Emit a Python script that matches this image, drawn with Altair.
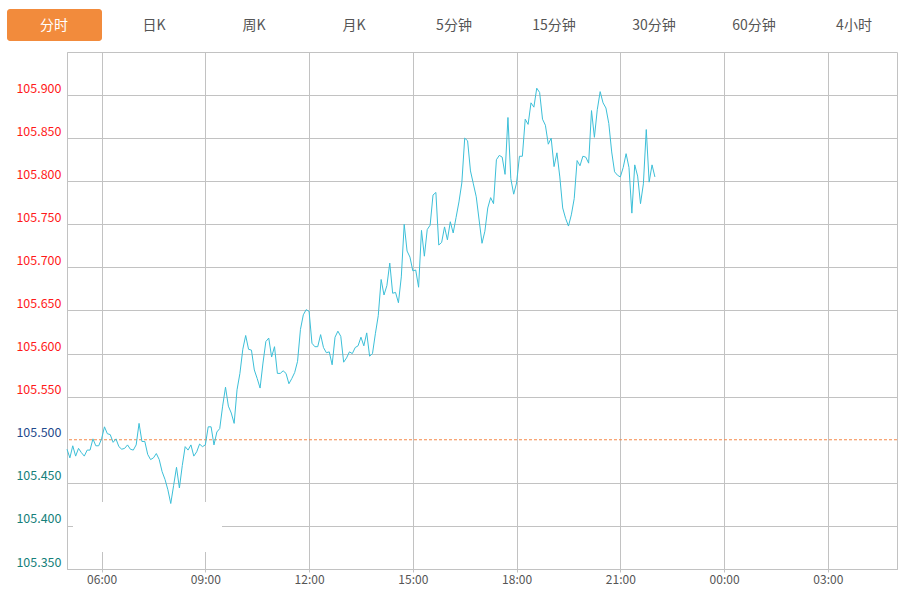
import altair as alt
import pandas as pd

# ---- data ----
prices = [
    105.489, 105.479, 105.493, 105.481, 105.490, 105.485, 105.481, 105.488, 105.488, 105.501,
    105.493, 105.493, 105.501, 105.515, 105.507, 105.506, 105.497, 105.501, 105.492, 105.489,
    105.490, 105.494, 105.489, 105.488, 105.494, 105.519, 105.498, 105.498, 105.483, 105.477,
    105.479, 105.484, 105.477, 105.463, 105.454, 105.442, 105.426, 105.447, 105.468, 105.444,
    105.470, 105.492,
    105.488, 105.494, 105.481, 105.486, 105.495, 105.492, 105.494, 105.515, 105.515, 105.494,
    105.509, 105.513, 105.539, 105.561, 105.539, 105.531, 105.519, 105.558, 105.577, 105.605,
    105.621, 105.605, 105.604, 105.581, 105.571, 105.560, 105.589, 105.614, 105.618, 105.596,
    105.608, 105.577, 105.577, 105.580, 105.577, 105.565, 105.571, 105.578, 105.591, 105.628,
    105.645,
    105.651, 105.649, 105.612, 105.608, 105.608, 105.622, 105.607, 105.601, 105.602, 105.587,
    105.619, 105.626, 105.620, 105.590, 105.595, 105.602, 105.600, 105.607, 105.609, 105.619,
    105.609, 105.624, 105.597, 105.600, 105.623, 105.644, 105.686, 105.668, 105.679, 105.705,
    105.670, 105.671, 105.659, 105.689, 105.750, 105.719, 105.712, 105.696, 105.697, 105.677,
    105.743, 105.713,
    105.744, 105.749, 105.784, 105.787, 105.726, 105.729, 105.747, 105.732, 105.753, 105.740,
    105.758, 105.776, 105.798, 105.850, 105.847, 105.812, 105.797, 105.782, 105.755, 105.728,
    105.742, 105.769, 105.781, 105.774, 105.825, 105.830, 105.828, 105.808, 105.874, 105.803,
    105.785, 105.798, 105.829, 105.829, 105.872, 105.866, 105.891, 105.886, 105.908, 105.903,
    105.872, 105.865,
    105.843, 105.850, 105.817, 105.833, 105.805, 105.769, 105.757, 105.748, 105.761, 105.780,
    105.824, 105.818, 105.829, 105.828, 105.821, 105.882, 105.851, 105.883, 105.904, 105.891,
    105.885, 105.867, 105.834, 105.811, 105.807, 105.805, 105.816, 105.832, 105.816, 105.763,
    105.819, 105.806, 105.774, 105.797, 105.860, 105.799, 105.819, 105.805,
]
step_minutes = 5                      # one point every 5 minutes from 05:00
session_minutes = 1440                # 05:00 -> 05:00 next day
x_tick_minutes = [60, 240, 420, 600, 780, 960, 1140, 1320]
x_tick_labels = ["06:00", "09:00", "12:00", "15:00", "18:00", "21:00", "00:00", "03:00"]
y_ticks = [105.35, 105.40, 105.45, 105.50, 105.55, 105.60, 105.65,
           105.70, 105.75, 105.80, 105.85, 105.90]
y_domain = [105.35, 105.95]
prev_close = 105.50
tabs = ["分时", "日K", "周K", "月K", "5分钟", "15分钟", "30分钟", "60分钟", "4小时"]

# ---- styling ----
GRID = "#c2c2c2"
LINE = "#3cbfd8"
DASH = "#f4884a"
ORANGE = "#f28b3c"
FONT = "Noto Sans CJK SC"

df = pd.DataFrame({"t": [i * step_minutes for i in range(len(prices))], "price": prices})
df_ref = pd.DataFrame({"y": [prev_close]})
df_tabs = pd.DataFrame({"tab": tabs, "i": list(range(len(tabs)))})
df_one = pd.DataFrame({"a": [0]})

label_expr = ("[" + ",".join(f"'{l}'" for l in x_tick_labels) + "][indexof(["
              + ",".join(str(v) for v in x_tick_minutes) + "], datum.value)]")

x_enc = alt.X(
    "t:Q",
    scale=alt.Scale(domain=[0, session_minutes], nice=False, zero=False),
    axis=alt.Axis(values=x_tick_minutes, labelExpr=label_expr, title=None,
                  grid=True, gridColor=GRID, domainColor=GRID, tickColor=GRID,
                  tickSize=3, labelPadding=2, labelFontSize=12, labelColor="#555555",
                  labelFont=FONT, labelFlush=False),
)

label_color = {
    "condition": [
        {"test": "datum.value > 105.5001", "value": "#ff1a1a"},
        {"test": "datum.value > 105.4999", "value": "#1f4a8c"},
    ],
    "value": "#15807a",
}
grid_color = {
    "condition": {"test": "abs(datum.value - 105.5) < 0.0001", "value": "transparent"},
    "value": GRID,
}

y_enc = alt.Y(
    "price:Q",
    scale=alt.Scale(domain=y_domain, nice=False, zero=False),
    axis=alt.Axis(values=y_ticks, format=".3f", title=None, ticks=False,
                  labelPadding=6, labelFontSize=12.5, labelFont=FONT,
                  labelColor=label_color, gridColor=grid_color, domainColor=GRID,
                  labelBaseline="bottom", labelOverlap=False),
)

line = alt.Chart(df).mark_line(color=LINE, strokeWidth=1).encode(x=x_enc, y=y_enc)

ref = alt.Chart(df_ref).mark_rule(color=DASH, strokeDash=[3, 2], strokeWidth=1).encode(
    y=alt.Y("y:Q")
)

mask = alt.Chart(df_one).mark_rect(color="white").encode(
    x=alt.value(6), x2=alt.value(155), y=alt.value(450), y2=alt.value(500)
)

button = alt.Chart(df_one).mark_rect(color=ORANGE, cornerRadius=3).encode(
    x=alt.value(-60), x2=alt.value(35), y=alt.value(-43), y2=alt.value(-11)
)

tab_text = alt.Chart(df_tabs).transform_calculate(
    px="-13 + 100 * datum.i"
).mark_text(fontSize=14, font=FONT, baseline="middle", align="center").encode(
    x=alt.X("px:Q", scale=None, axis=None),
    y=alt.value(-26),
    text="tab:N",
    color=alt.condition("datum.i == 0", alt.value("white"), alt.value("#555555")),
)

chart = alt.layer(mask, ref, line, button, tab_text).properties(
    width=830,
    height=517,
    autosize=alt.AutoSizeParams(type="none"),
    padding={"left": 67, "top": 52, "right": 12, "bottom": 21},
    background="white",
).configure_view(stroke=GRID, strokeWidth=1)

chart.save("out.html", embed_options={"renderer": "svg", "actions": False})
